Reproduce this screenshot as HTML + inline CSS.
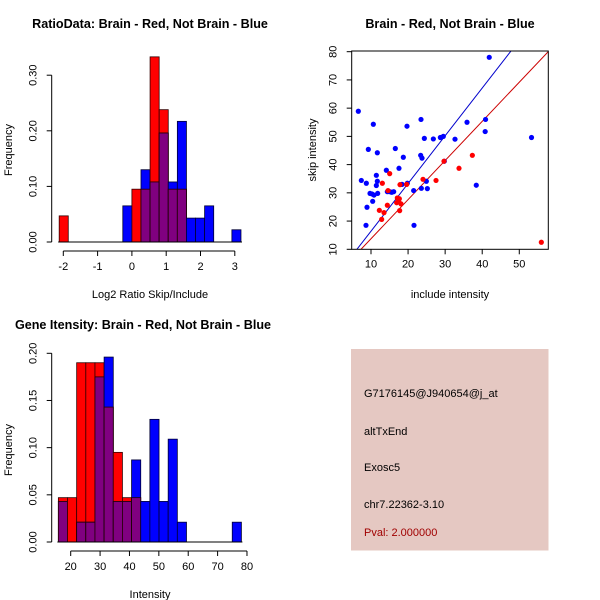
<!DOCTYPE html>
<html><head><meta charset="utf-8"><style>
body{margin:0;background:#fff}
svg{display:block;font-family:"Liberation Sans",Arial,sans-serif}
</style></head><body>
<svg id="c" width="600" height="600" viewBox="0 0 600 600">
<rect x="351" y="349" width="197.5" height="201.5" fill="#e5c8c2"/>
<g font-size="11" fill="#000">
<text x="364" y="397">G7176145@J940654@j_at</text>
<text x="364" y="435">altTxEnd</text>
<text x="364" y="471">Exosc5</text>
<text x="364" y="508">chr7.22362-3.10</text>
<text x="364" y="536" fill="#a00000">Pval: 2.000000</text>
</g>
</svg>
<script>
// ---- Ratio histogram data ----
const ratioBreakStart = -8;
const ratioBinWidth = 0.265;
const ratioRed  = [0.047,0,0,0,0,0,0,0,0.095,0.095,0.333,0.238,0.095,0.095,0,0,0,0,0,0];
const ratioBlue = [0,0,0,0,0,0,0,0.065,0,0.130,0.108,0.196,0.108,0.217,0.043,0.043,0.065,0,0,0.022];
const ratioXTicks = [-2,-1,0,1,2,3];
const ratioYTicks = [0,0.10,0.20,0.30];
// ---- Intensity histogram data ----
const intStart = 15.8;
const intBinWidth = 3.115;
const intRed  = [0.047,0.047,0.190,0.190,0.190,0.143,0.095,0.047,0.047,0,0,0,0,0,0,0,0,0,0,0];
const intBlue = [0.043,0,0.021,0.021,0.175,0.196,0.043,0.043,0.087,0.043,0.130,0.043,0.109,0.021,0,0,0,0,0,0.021];
const intXTicks = [20,30,40,50,60,70,80];
const intYTicks = [0,0.05,0.10,0.15,0.20];
// ---- Scatter data ----
const blueX = [6.58,7.39,8.74,8.92,8.65,9.28,9.73,10.27,10.45,10.63,10.81,11.44,11.44,11.71,11.71,11.8,14.14,14.41,15.04,15.58,16.12,16.56,17.55,18.36,18.72,19.71,19.8,21.51,21.6,23.49,23.4,23.58,23.76,24.39,24.93,25.2,26.82,28.71,29.51,29.78,32.66,35.9,38.4,40.8,40.9,41.9,53.3];
const blueY = [58.9,34.4,33.4,24.9,18.5,45.4,29.8,29.6,27.0,54.3,29.2,32.6,36.2,44.2,34.1,29.8,38.0,30.4,30.4,30.2,30.4,45.7,38.7,33.0,42.6,53.6,33.4,30.8,18.5,56.0,43.3,31.6,42.3,49.3,34.1,31.5,49.1,49.6,50.0,41.2,49.0,55.0,32.7,51.7,56.0,78.0,49.6];
const redX = [12.25,12.88,13.06,13.51,14.41,14.59,15.04,17.1,16.92,17.46,17.64,17.73,18.09,17.82,19.62,24.03,27.54,29.69,33.74,37.34,55.95];
const redY = [23.8,20.6,33.4,23.0,25.6,30.8,36.8,28.2,26.5,27.0,27.9,23.7,26.1,32.9,33.0,34.8,34.4,41.2,38.7,43.3,12.5];
const lineBlue = [1.69,-0.48];
const lineRed = [1.386,-0.12];
const scXTicks = [10,20,30,40,50];
const scYTicks = [10,20,30,40,50,60,70,80];

const NS='http://www.w3.org/2000/svg', svg=document.getElementById('c');
function el(t,a,p){const e=document.createElementNS(NS,t);for(const k in a)e.setAttribute(k,a[k]);(p||svg).appendChild(e);return e;}
function txt(x,y,s,size,opts,p){const e=el('text',Object.assign({x:x,y:y,'font-size':size,'text-anchor':'middle'},opts||{}),p);e.textContent=s;return e;}

function hist(o){
  const g=el('g',{});
  
  
  const X=v=>o.x0+(v-o.xv0)*o.xs, Y=v=>o.y0-v*o.ys;
  const n=o.red.length;
  for(let i=0;i<n;i++){
    const a=X(o.edge(i)), b=X(o.edge(i+1));
    const r=o.red[i], bl=o.blue[i], m=Math.min(r,bl);
    if(r>0){const e=el('rect',{x:a,y:Y(r),width:b-a,height:Y(0)-Y(r),fill:'#ff0000',stroke:'#300',"stroke-width":0.8},g);
      
      }
    if(bl>0){const e=el('rect',{x:a,y:Y(bl),width:b-a,height:Y(0)-Y(bl),fill:'#0000ff',stroke:'#003',"stroke-width":0.8},g);
      
      }
    if(m>0){const e=el('rect',{x:a,y:Y(m),width:b-a,height:Y(0)-Y(m),fill:'#800080',stroke:'#200',"stroke-width":0.8},g);
      
      }
  }
  el('line',{x1:X(o.edge(0))-1,x2:X(o.edge(n))+1,y1:o.y0,y2:o.y0,stroke:'#000'},g);
  const ax=o.y0+9;
  el('line',{x1:X(o.xt[0]),x2:X(o.xt[o.xt.length-1]),y1:ax,y2:ax,stroke:'#000'},g);
  o.xt.forEach(t=>{el('line',{x1:X(t),x2:X(t),y1:ax,y2:ax+5,stroke:'#000'},g);
    const e=txt(X(t),ax+19,String(t),11,{},g);
    });
  const yx=o.yAxisX;
  el('line',{x1:yx,x2:yx,y1:Y(o.yt[0]),y2:Y(o.yt[o.yt.length-1]),stroke:'#000'},g);
  o.yt.forEach(t=>{el('line',{x1:yx,x2:yx-5,y1:Y(t),y2:Y(t),stroke:'#000'},g);
    const lx=yx-15;
    const e=txt(lx,Y(t),t.toFixed(2),11,{transform:`rotate(-90 ${lx} ${Y(t)})`},g);
    });
}

hist({name:'ratio-histogram',red:ratioRed,blue:ratioBlue,edge:i=>(ratioBreakStart+i)*ratioBinWidth,
  x0:63.3,xv0:-2,xs:34.3,y0:242,ys:556,xt:ratioXTicks,yt:ratioYTicks,yAxisX:51.7});
hist({name:'intensity-histogram',red:intRed,blue:intBlue,edge:i=>intStart+i*intBinWidth,
  x0:70.7,xv0:20,xs:2.938,y0:542,ys:943.5,xt:intXTicks,yt:intYTicks,yAxisX:51.7});

(function(){
  const g=el('g',{});
  
  
  const L=351.7,R=548.3,T=51,B=249.3;
  const X=v=>371+(v-10)*3.707, Y=v=>249.3-(v-10)*2.823;
  const cp=el('clipPath',{id:'sc'},g);el('rect',{x:L,y:T,width:R-L,height:B-T},cp);
  const lb=el('line',{x1:X(0),y1:Y(lineBlue[1]),x2:X(60),y2:Y(lineBlue[0]*60+lineBlue[1]),stroke:'#0000cc','clip-path':'url(#sc)'},g);
  
  
  const lr=el('line',{x1:X(0),y1:Y(lineRed[1]),x2:X(60),y2:Y(lineRed[0]*60+lineRed[1]),stroke:'#cc0000','clip-path':'url(#sc)'},g);
  
  
  blueX.forEach((v,i)=>{const c=el('circle',{cx:X(v),cy:Y(blueY[i]),r:2.6,fill:'#0000ff'},g);
    
    });
  redX.forEach((v,i)=>{const c=el('circle',{cx:X(v),cy:Y(redY[i]),r:2.6,fill:'#ff0000'},g);
    
    });
  el('rect',{x:L,y:T,width:R-L,height:B-T,fill:'none',stroke:'#000'},g);
  scXTicks.forEach(t=>{el('line',{x1:X(t),x2:X(t),y1:B,y2:B+5,stroke:'#000'},g);
    const e=txt(X(t),B+18,String(t),11,{},g);
    });
  scYTicks.forEach(t=>{el('line',{x1:L,x2:L-5,y1:Y(t),y2:Y(t),stroke:'#000'},g);
    const lx=L-15;
    const e=txt(lx,Y(t),String(t),11,{transform:`rotate(-90 ${lx} ${Y(t)})`},g);
    });
})();
[[150,28,'RatioData: Brain - Red, Not Brain - Blue','title-ratio'],
 [450,28,'Brain - Red, Not Brain - Blue','title-scatter'],
 [143,329,'Gene Itensity: Brain - Red, Not Brain - Blue','title-intensity']].forEach(a=>{
  const e=txt(a[0],a[1],a[2],12.6,{'font-weight':'bold'});
  
  
});
[[150,298,'Log2 Ratio Skip/Include','x-axis-title-ratio'],[450,298,'include intensity','x-axis-title-scatter'],[150,598,'Intensity','x-axis-title-intensity']].forEach(a=>{
  const e=txt(a[0],a[1],a[2],11);
  
  
});
[[12,150,'Frequency','y-axis-title-ratio'],[316,150,'skip intensity','y-axis-title-scatter'],[12,450,'Frequency','y-axis-title-intensity']].forEach(a=>{
  const e=txt(a[0],a[1],a[2],11,{transform:`rotate(-90 ${a[0]} ${a[1]})`});
  
  
});
</script>
</body></html>
